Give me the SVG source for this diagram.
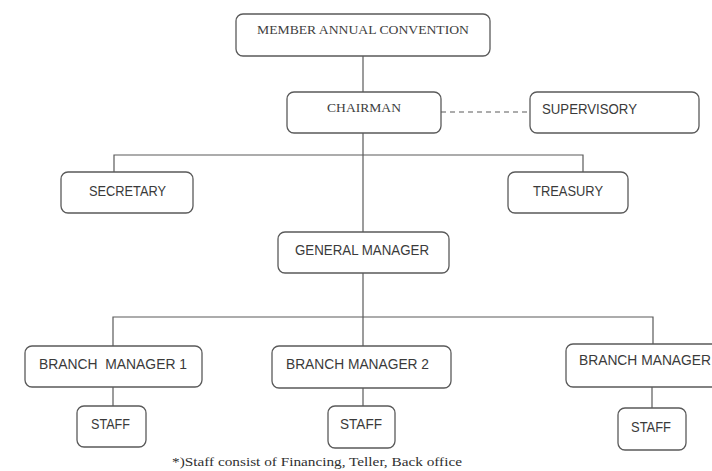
<svg xmlns="http://www.w3.org/2000/svg" width="712" height="471" viewBox="0 0 712 471">
  <style>
    .box { fill: #ffffff; stroke: #5a5a5a; stroke-width: 1.3; }
    .link { fill: none; stroke: #5a5a5a; stroke-width: 1.2; }
    .dash { stroke-dasharray: 5 4; }
    .serif { font-family: "Liberation Serif", "Times New Roman", serif; font-size: 13px; fill: #404040; }
    .sans { font-family: "Liberation Sans", Arial, sans-serif; font-size: 14px; fill: #3a3a3a; }
    .note { font-family: "Liberation Serif", "Times New Roman", serif; font-size: 13.5px; fill: #303030; }
  </style>

  <!-- connectors -->
  <g id="connectors">
    <line class="link" x1="363" y1="56" x2="363" y2="92"/>
    <line class="link dash" x1="441" y1="112" x2="530" y2="112"/>
    <line class="link" x1="363" y1="133" x2="363" y2="232"/>
    <polyline class="link" points="114,172 114,155 583,155 583,172"/>
    <line class="link" x1="363" y1="273" x2="363" y2="317"/>
    <polyline class="link" points="113,346 113,317 653,317 653,344"/>
    <line class="link" x1="363" y1="317" x2="363" y2="346"/>
    <line class="link" x1="113" y1="387" x2="113" y2="406"/>
    <line class="link" x1="363" y1="388" x2="363" y2="406"/>
    <line class="link" x1="652" y1="387" x2="652" y2="408"/>
  </g>

  <g id="member-annual-convention">
    <rect class="box" x="236" y="14" width="254" height="42" rx="7"/>
    <text class="serif" x="257" y="34" textLength="212" lengthAdjust="spacingAndGlyphs">MEMBER ANNUAL CONVENTION</text>
  </g>

  <g id="chairman">
    <rect class="box" x="287" y="92" width="154" height="41" rx="7"/>
    <text class="serif" x="327" y="112" textLength="74" lengthAdjust="spacingAndGlyphs">CHAIRMAN</text>
  </g>

  <g id="supervisory">
    <rect class="box" x="530" y="92" width="169" height="41" rx="7"/>
    <text class="sans" x="542" y="114" textLength="95" lengthAdjust="spacingAndGlyphs">SUPERVISORY</text>
  </g>

  <g id="secretary">
    <rect class="box" x="61" y="172" width="132" height="41" rx="7"/>
    <text class="sans" x="89" y="196" textLength="77" lengthAdjust="spacingAndGlyphs">SECRETARY</text>
  </g>

  <g id="treasury">
    <rect class="box" x="508" y="172" width="120" height="41" rx="7"/>
    <text class="sans" x="533" y="196" textLength="70" lengthAdjust="spacingAndGlyphs">TREASURY</text>
  </g>

  <g id="general-manager">
    <rect class="box" x="278" y="232" width="171" height="41" rx="7"/>
    <text class="sans" x="295" y="255" textLength="134" lengthAdjust="spacingAndGlyphs">GENERAL MANAGER</text>
  </g>

  <g id="branch-manager-1">
    <rect class="box" x="25" y="346" width="177" height="41" rx="7"/>
    <text class="sans" x="39" y="369" textLength="148" lengthAdjust="spacingAndGlyphs" xml:space="preserve">BRANCH  MANAGER 1</text>
  </g>

  <g id="branch-manager-2">
    <rect class="box" x="272" y="346" width="179" height="42" rx="7"/>
    <text class="sans" x="286" y="369" textLength="143" lengthAdjust="spacingAndGlyphs">BRANCH MANAGER 2</text>
  </g>

  <g id="branch-manager-3">
    <rect class="box" x="566" y="344" width="180" height="43" rx="7"/>
    <text class="sans" x="579" y="365" textLength="132" lengthAdjust="spacingAndGlyphs">BRANCH MANAGER</text>
  </g>

  <g id="staff-1">
    <rect class="box" x="77" y="406" width="69" height="41" rx="7"/>
    <text class="sans" x="91" y="429" textLength="39" lengthAdjust="spacingAndGlyphs">STAFF</text>
  </g>

  <g id="staff-2">
    <rect class="box" x="328" y="406" width="67" height="42" rx="7"/>
    <text class="sans" x="340" y="429" textLength="42" lengthAdjust="spacingAndGlyphs">STAFF</text>
  </g>

  <g id="staff-3">
    <rect class="box" x="618" y="408" width="68" height="42" rx="7"/>
    <text class="sans" x="631" y="432" textLength="40" lengthAdjust="spacingAndGlyphs">STAFF</text>
  </g>

  <text class="note" x="172" y="466" textLength="290" lengthAdjust="spacingAndGlyphs">*)Staff consist of Financing, Teller, Back office</text>
</svg>
